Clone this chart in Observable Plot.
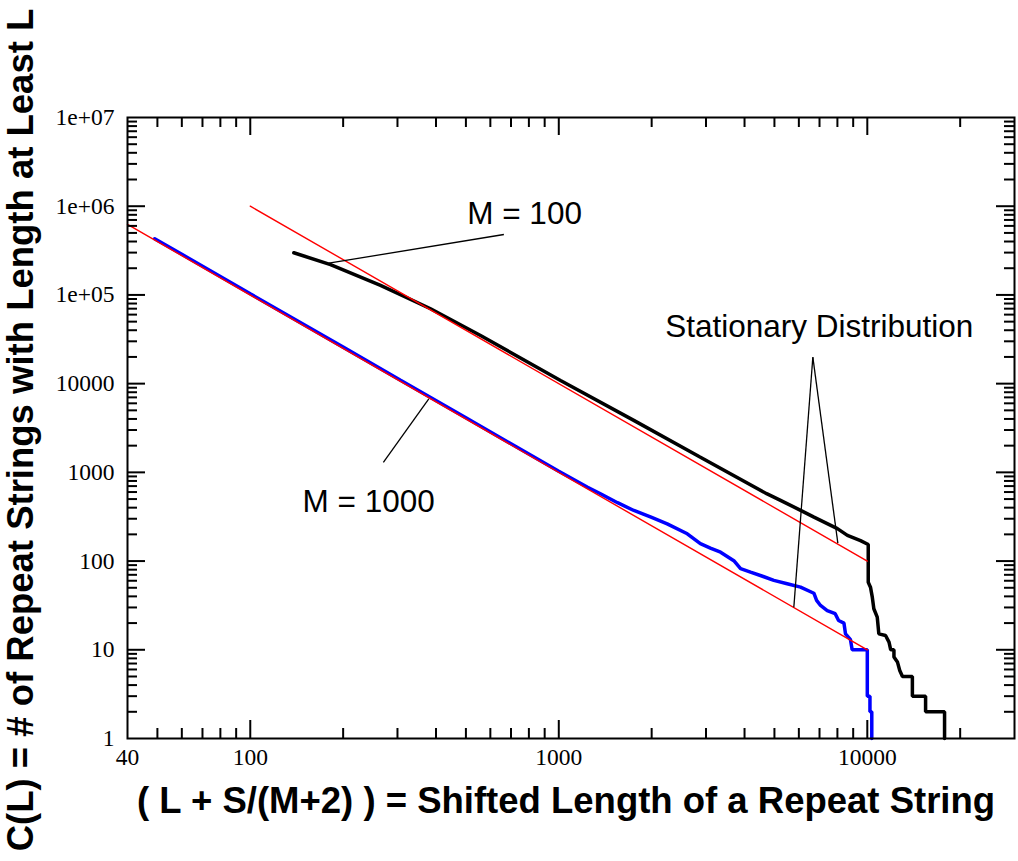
<!DOCTYPE html>
<html>
<head>
<meta charset="utf-8">
<script src="https://cdn.jsdelivr.net/npm/d3@7"></script>
<script src="https://cdn.jsdelivr.net/npm/@observablehq/plot@0.6"></script>
<style>
  html, body { margin: 0; padding: 0; background: #fff; }
</style>
</head>
<body>
<div id="chart"></div>
<script>
// ---- scales / ticks ----
const xDomain = [40, 30000];
const yDomain = [1, 1e7];
const xTickLabels = [40, 100, 1000, 10000];
const yTickValues = [1, 10, 100, 1000, 10000, 1e5, 1e6, 1e7];
const yTickText = ["1", "10", "100", "1000", "10000", "1e+05", "1e+06", "1e+07"];
const xMajorTicks = [100, 1000, 10000];
const yMajorTicks = [10, 100, 1000, 10000, 1e5, 1e6];
const minorMultipliers = [2, 3, 4, 5, 6, 7, 8, 9];
const xMinorTicks = [50, 60, 70, 80, 90]
  .concat(...[100, 1000].map(d => minorMultipliers.map(m => m * d)))
  .concat([20000]);
const yMinorTicks = [].concat(...[1, 10, 100, 1000, 1e4, 1e5, 1e6].map(d => minorMultipliers.map(m => m * d)));

// ---- data: M = 1000 (blue) ----
const m1000X = [49, 60, 100, 200, 307, 500, 700, 1000, 1240, 1365, 1550, 1751, 2000, 2246, 2609, 2877, 3100, 3345, 3693, 3884, 4183, 4600, 4978, 5500, 6075, 6712, 6850, 7053, 7414, 7870, 8070, 8400, 8500, 8820, 8930, 10000, 10000, 10200, 10200, 10340, 10340];
const m1000C = [4.3e5, 2.87e5, 1.03e5, 2.58e4, 1.09e4, 4120, 2100, 1030, 680, 573, 455, 372, 310, 263, 203, 157, 140, 126, 101, 82, 75, 67, 60.6, 55.5, 50.8, 43.4, 36, 31.6, 27.7, 25.5, 21.4, 20, 15.1, 13, 10, 10, 3, 3, 2, 2, 1];

// ---- data: M = 100 (black) ----
const m100X = [138.4, 182, 264.4, 384, 557.6, 1013, 1750, 2868, 4718, 5232, 6080, 6716, 8000, 8620, 9505, 10070, 10070, 10240, 10380, 10500, 10770, 10900, 11460, 11760, 11910, 12200, 12200, 12520, 12740, 13000, 14000, 14000, 15450, 15450, 17800, 17800];
const m100C = [2.99e5, 2.2e5, 1.28e5, 6.98e4, 3.49e4, 10860, 3857, 1487, 575, 483, 373, 313, 232, 195, 170, 153.8, 57.8, 50.8, 39.2, 29, 23.3, 15.1, 14.5, 12.2, 10, 10, 8.3, 7.3, 5.85, 5, 5, 3, 3, 2, 2, 1];

// ---- power-law fits (red) ----
const fit1000X = [40, 10000];
const fit1000C = [6.23e5, 10];
const fit100X = [100, 10000];
const fit100C = [1e6, 100];

// ---- annotations ----
const annotTexts = ["M = 100", "Stationary Distribution", "M = 1000"];
const annotX = [504.9, 2213, 147.7];
const annotY = [6.34e5, 33400, 355.7];
const pointerX1 = [663.7, 270, 6660, 6660];
const pointerY1 = [4.8e5, 1292, 19870, 19870];
const pointerX2 = [179.7, 379, 8026, 5779];
const pointerY2 = [2.28e5, 6750, 159, 30.2];

const xLabel = "( L + S/(M+2) ) = Shifted Length of a Repeat String";
const yLabel = "C(L) = # of Repeat Strings with Length at Least L";

const zip = (xs, ys) => xs.map((x, i) => ({x, y: ys[i]}));
const blue = zip(m1000X, m1000C);
const black = zip(m100X, m100C);
const fitLow = zip(fit1000X, fit1000C);
const fitHigh = zip(fit100X, fit100C);
const annots = annotTexts.map((t, i) => ({t, x: annotX[i], y: annotY[i]}));
const pointers = pointerX1.map((x1, i) => ({x1, y1: pointerY1[i], x2: pointerX2[i], y2: pointerY2[i]}));

const W = 1018, H = 861;
const mL = 127, mR = 4, mT = 117, mB = 123;
const fw = W - mL - mR, fh = H - mT - mB;
const major = 18, minor = 10;
const serif = "Liberation Serif, Times New Roman, serif";
const sans = "Liberation Sans, Arial, Helvetica, sans-serif";

const chart = Plot.plot({
  width: W,
  height: H,
  marginLeft: mL,
  marginRight: mR,
  marginTop: mT,
  marginBottom: mB,
  style: {background: "#fff", overflow: "visible"},
  x: {type: "log", domain: xDomain, axis: null},
  y: {type: "log", domain: yDomain, axis: null},
  marks: [
    // data curves
    Plot.line(blue, {x: "x", y: "y", stroke: "#0000ff", strokeWidth: 3.5, strokeLinejoin: "miter"}),
    Plot.line(black, {x: "x", y: "y", stroke: "#000", strokeWidth: 3.5, strokeLinejoin: "miter"}),
    Plot.line(fitLow, {x: "x", y: "y", stroke: "#ff0000", strokeWidth: 1.4}),
    Plot.line(fitHigh, {x: "x", y: "y", stroke: "#ff0000", strokeWidth: 1.4}),
    // annotation pointers
    Plot.link(pointers, {x1: "x1", y1: "y1", x2: "x2", y2: "y2", stroke: "#000", strokeWidth: 1.3}),
    Plot.text(annots, {x: "x", y: "y", text: "t", textAnchor: "start", lineAnchor: "bottom", fontSize: 31.5, fontFamily: sans, fill: "#000"}),
    // ticks (inward) on all four sides
    Plot.tickX(xMajorTicks, {x: d => d, insetTop: fh - major, strokeWidth: 2}),
    Plot.tickX(xMinorTicks, {x: d => d, insetTop: fh - minor, strokeWidth: 2}),
    Plot.tickX(xMajorTicks, {x: d => d, insetBottom: fh - major, strokeWidth: 2}),
    Plot.tickX(xMinorTicks, {x: d => d, insetBottom: fh - minor, strokeWidth: 2}),
    Plot.tickY(yMajorTicks, {y: d => d, insetRight: fw - major, strokeWidth: 2}),
    Plot.tickY(yMinorTicks, {y: d => d, insetRight: fw - minor, strokeWidth: 2}),
    Plot.tickY(yMajorTicks, {y: d => d, insetLeft: fw - major, strokeWidth: 2}),
    Plot.tickY(yMinorTicks, {y: d => d, insetLeft: fw - minor, strokeWidth: 2}),
    Plot.frame({stroke: "#000", strokeWidth: 2}),
    // tick labels
    Plot.text(xTickLabels, {x: d => d, frameAnchor: "bottom", dy: 10, lineAnchor: "top", textAnchor: "middle", text: d => String(d), fontSize: 23.5, fontFamily: serif, fill: "#000"}),
    Plot.text(yTickValues, {y: d => d, frameAnchor: "left", dx: -13, textAnchor: "end", lineAnchor: "middle", text: (d, i) => yTickText[i], fontSize: 23.5, fontFamily: serif, fill: "#000"}),
    // axis titles
    Plot.text([xLabel], {frameAnchor: "bottom", dx: -5, dy: 74, textAnchor: "middle", lineAnchor: "bottom", text: d => d, fontSize: 36.5, fontWeight: "bold", fontFamily: sans, fill: "#000"}),
    Plot.text([yLabel], {frameAnchor: "left", dx: -95, dy: 2, rotate: -90, textAnchor: "middle", lineAnchor: "bottom", text: d => d, fontSize: 36.5, fontWeight: "bold", fontFamily: sans, fill: "#000"})
  ]
});
document.getElementById("chart").appendChild(chart);
</script>
</body>
</html>
